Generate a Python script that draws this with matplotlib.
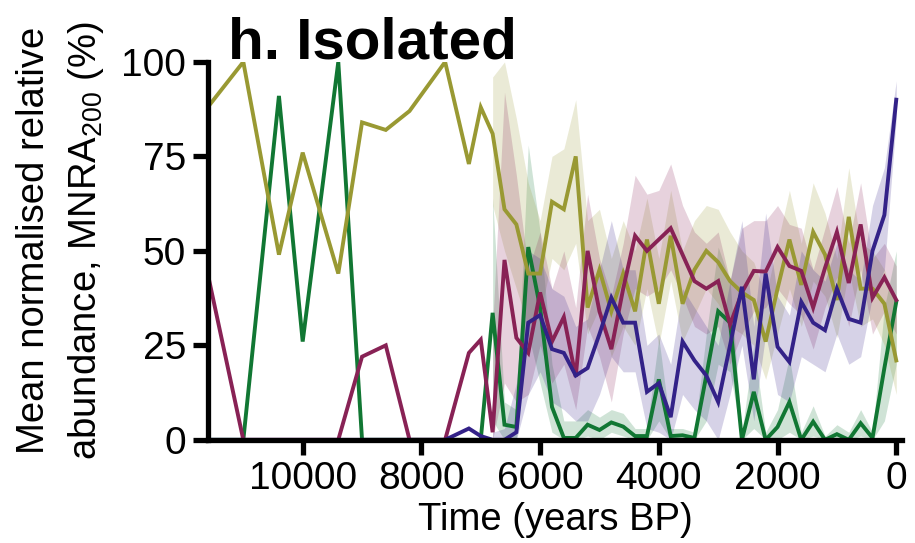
import numpy as np
import matplotlib
matplotlib.use("Agg")
import matplotlib.pyplot as plt

plt.rcParams["font.family"] = ["Liberation Sans", "DejaVu Sans"]
plt.rcParams["mathtext.fontset"] = "custom"
plt.rcParams["mathtext.rm"] = "Liberation Sans"
plt.rcParams["mathtext.default"] = "regular"

# time bins (years BP); early bins are single samples, no CI ribbon
years = [11600, 11000, 10400, 10000, 9400, 9000, 8600, 8200, 7600, 7200, 7000,
         6800, 6600, 6400, 6200, 6000, 5800, 5600, 5400, 5200, 5000, 4800, 4600,
         4400, 4200, 4000, 3800, 3600, 3400, 3200, 3000, 2800, 2600, 2400, 2200,
         2000, 1800, 1600, 1400, 1200, 1000, 800, 600, 400, 200, 0]
n_ci = 35  # last 35 bins carry a ribbon

olive = [88, 100, 49, 76, 44, 84, 82, 87, 100, 73, 88,
         81, 61, 57, 44, 44, 63, 61, 75, 35, 45, 34, 44,
         34, 53, 36, 54, 36, 45, 50, 47, 42, 39, 37, 26,
         40, 53, 41, 55, 49, 37, 59, 40, 40, 36, 21]
olive_hi = [96, 100, 85, 68, 58, 75, 77, 90, 58, 61, 48, 58,
            50, 64, 48, 66, 50, 58, 62, 61, 55, 50, 47, 38,
            52, 66, 52, 68, 60, 48, 72, 52, 50, 45, 35]
olive_lo = [62, 50, 40, 30, 33, 48, 45, 52, 28, 35, 22, 30,
            25, 40, 25, 42, 26, 33, 40, 36, 30, 28, 25, 16,
            28, 40, 30, 42, 38, 27, 45, 30, 32, 25, 12]

green = [0, 0, 91, 26, 100, 0, 0, 0, 0, 0, 0,
         33.6, 4, 3.4, 51, 35, 8.7, 0.5, 0.5, 4, 2.6, 4.6, 3.5,
         1, 1, 16, 1, 1.2, 0.5, 17, 34, 31, 0, 12.7, 0,
         3.4, 10, 0, 4.8, 0, 1.5, 0, 4.4, 0.5, 19, 36.5]
green_hi = [64, 10, 8, 78, 55, 20, 5, 5, 8, 6, 8, 7,
            3, 3, 27, 3, 3, 2, 28, 51, 42, 2, 25, 2,
            8, 22, 2, 9, 1, 4, 2, 8, 2, 35, 50]
green_lo = [5, 0, 0, 28, 15, 2, 0, 0, 1, 0, 2, 1,
            0, 0, 5, 0, 0, 0, 5, 20, 18, 0, 3, 0,
            0, 2, 0, 1, 0, 0, 0, 1, 0, 5, 20]

wine = [44, 0, 0, 0, 0, 22, 25, 0, 0, 23, 26.5,
        2, 47.6, 27, 23, 39, 26, 32.5, 16.7, 50, 34, 24, 40,
        54, 50, 53, 56, 49, 42, 40, 42, 30.5, 39, 44.7, 44.5,
        51, 46, 44.7, 35, 45.5, 55, 41.5, 57, 37.6, 43, 37]
wine_hi = [30, 92, 70, 45, 55, 40, 50, 35, 65, 48, 38, 52,
           70, 65, 66, 73, 62, 55, 52, 55, 42, 56, 58, 58,
           62, 57, 56, 45, 56, 67, 52, 68, 48, 52, 46]
wine_lo = [0, 15, 10, 12, 25, 15, 20, 8, 30, 22, 10, 28,
           40, 38, 40, 45, 38, 30, 28, 30, 20, 28, 34, 35,
           40, 36, 33, 24, 35, 43, 30, 45, 28, 34, 28]

indigo = [0, 0, 0, 0, 0, 0, 0, 0, 0, 3, 1,
          0, 0, 2, 31, 33, 24, 23, 17, 19, 28, 37.6, 31,
          31, 12.7, 15, 6, 26, 21, 17, 10, 25, 40.5, 16, 44,
          24.6, 20.6, 36.5, 31, 29, 40, 32, 31, 50, 59.5, 90]
indigo_hi = [2, 3, 15, 50, 48, 40, 38, 30, 32, 45, 58, 45,
             45, 25, 28, 20, 40, 35, 30, 25, 42, 58, 30, 60,
             38, 33, 50, 45, 42, 52, 45, 42, 62, 72, 95]
indigo_lo = [0, 0, 0, 12, 18, 10, 8, 5, 5, 12, 22, 18,
             18, 3, 2, 0, 12, 8, 5, 0, 12, 25, 5, 28,
             12, 10, 22, 20, 18, 28, 20, 22, 38, 45, 85]

series = [
    ("#117733", green, green_lo, green_hi),
    ("#999933", olive, olive_lo, olive_hi),
    ("#882255", wine, wine_lo, wine_hi),
    ("#332288", indigo, indigo_lo, indigo_hi),
]

fig = plt.figure(figsize=(9.15, 5.43), dpi=100)
ax = fig.add_axes([0.227, 0.19, 0.759, 0.696])

yrs = np.array(years)
for color, vals, lo, hi in series:
    ax.fill_between(yrs[-n_ci:], lo, hi, color=color, alpha=0.2, linewidth=0)
for color, vals, lo, hi in series:
    ax.plot(yrs, vals, color=color, linewidth=2.8, solid_joinstyle="miter")

ax.set_xlim(11600, -100)
ax.set_ylim(0, 100)
ax.set_xticks([10000, 8000, 6000, 4000, 2000, 0])
ax.set_yticks([0, 25, 50, 75, 100])
for side in ["top", "right"]:
    ax.spines[side].set_visible(False)
for side in ["left", "bottom"]:
    ax.spines[side].set_linewidth(3.8)
ax.tick_params(axis="both", which="major", labelsize=28, width=3.8, length=10.5,
               pad=5, direction="out")

ax.set_xlabel("Time (years BP)", fontsize=27.5)
ax.xaxis.set_label_coords(0.5, -0.165)
ax.set_ylabel("Mean normalised relative\nabundance, MNRA$_{200}$ (%)",
              fontsize=27.5, linespacing=1.45)
ax.yaxis.set_label_coords(-0.147, 0.528)

fig.text(0.249, 0.892, "h. Isolated", fontsize=42, fontweight="bold",
         ha="left", va="baseline")

fig.savefig("out.png", dpi=100)
